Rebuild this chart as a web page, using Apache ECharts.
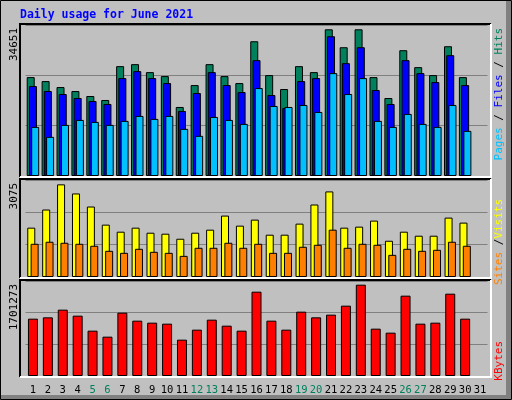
<!DOCTYPE html>
<html><head><meta charset="utf-8">
<script src="https://cdn.jsdelivr.net/npm/echarts@6/dist/echarts.min.js"></script>
<style>html,body{margin:0;padding:0;background:#c0c0c0}#c{width:512px;height:400px}</style>
</head><body><div id="c"></div>
<script>
const days = ['1','2','3','4','5','6','7','8','9','10','11','12','13','14','15','16','17','18','19','20','21','22','23','24','25','26','27','28','29','30','31'];
const weekends = ['5','6','12','13','19','20','26','27'];
const hits = [22696,21782,20411,19497,18355,17441,25209,25666,23838,22924,15841,20868,25666,22924,21325,30921,23153,19954,25209,23838,33663,29550,33663,22696,17898,28865,24980,23153,29779,22696,null];
const files = [20639,19497,18812,17898,17212,16527,22467,24067,22467,21325,14927,19040,23838,20868,19268,26580,18583,15613,21782,22467,32063,25894,29550,19725,16527,26580,23610,21553,27722,20868,null];
const pages = [11272,8987,11729,12871,12414,11729,12643,13785,13100,13785,10815,9215,13556,12871,11957,20182,16070,15841,16298,14699,23610,18812,22467,12643,11272,14242,11957,11272,16298,10358,null];
const visits = [1564,2139,2937,2649,2234,1660,1436,1564,1404,1373,1213,1404,1500,1947,1628,1819,1341,1341,1692,2298,2713,1564,1596,1788,1149,1436,1309,1309,1883,1724,null];
const sites = [1053,1117,1085,1053,990,830,766,894,798,766,670,926,926,1085,926,1053,766,766,958,1021,1500,926,1053,1021,702,894,830,862,1117,990,null];
const kbytes = [1026668,1050544,1187831,1080389,811784,704342,1134110,990854,955040,937133,650621,829691,1008761,901319,811784,1510157,990854,829691,1152017,1050544,1098296,1259459,1635506,847598,775970,1438529,937133,955040,1474343,1026668,null];
const maxLabels = ['34651','3075','1701273'];
const maxVals = [34651,3075,1701273];
const title = 'Daily usage for June 2021';

const mono = 'DejaVu Sans Mono';
const panels = [{top:25,height:151},{top:180,height:97},{top:281,height:95}];
const frames = [[20,24,491,177],[20,179,491,278],[20,280,491,377]];

const grids = panels.map(p=>({left:25.5,right:24.5,top:p.top,height:p.height,show:false}));
const xAxes = panels.map((p,i)=>({type:'category',gridIndex:i,data:days,
  axisLine:{show:false},axisTick:{show:false},
  axisLabel:{show:i===2,interval:0,margin:9,fontFamily:mono,fontSize:10.5,
    color:(v)=>weekends.includes(v)?'#00805c':'#000'}}));
const yAxes = maxVals.map((m,i)=>({type:'value',gridIndex:i,min:0,max:m,interval:m/3,
  axisLabel:{show:false},axisLine:{show:false},axisTick:{show:false},
  splitLine:{show:true,lineStyle:{color:'#808080',width:1}}}));

const bs = {borderColor:'#000',borderWidth:1};
function bar(name,data,ai,color,w,gap){return {name,type:'bar',xAxisIndex:ai,yAxisIndex:ai,data,barWidth:w,barGap:gap,
  itemStyle:Object.assign({color},bs),animation:false,silent:true};}

const graphics = [
  {type:'rect',shape:{x:0.5,y:0.5,width:511,height:399},style:{fill:'none',stroke:'#000',lineWidth:1},z:100},
  {type:'rect',shape:{x:506,y:1,width:5,height:398},style:{fill:'#808080'},z:99},
  {type:'rect',shape:{x:1,y:395,width:510,height:4},style:{fill:'#808080'},z:99},
  {type:'text',x:20,y:15,style:{text:title,font:'bold 11.5px "DejaVu Sans Mono"',fill:'#0000ff',textVerticalAlign:'middle'}}
];
frames.forEach(f=>{
  graphics.push({type:'polyline',shape:{points:[[f[0],f[3]],[f[0],f[1]],[f[2],f[1]]]},style:{stroke:'#000',lineWidth:2,fill:'none'},z:50});
  graphics.push({type:'polyline',shape:{points:[[f[0],f[3]],[f[2],f[3]],[f[2],f[1]]]},style:{stroke:'#fff',lineWidth:2,fill:'none'},z:50});
});
const yTop = [28,183,284];
maxLabels.forEach((t,i)=>graphics.push({type:'text',x:14,y:yTop[i],rotation:Math.PI/2,
  style:{text:t,font:'11px "DejaVu Sans Mono"',fill:'#000',textAlign:'right',textVerticalAlign:'middle'}}));
function rlabel(y,rich,text){graphics.push({type:'text',x:499,y:y,rotation:Math.PI/2,
  style:{text,rich,font:'11px "DejaVu Sans Mono"',textAlign:'right',textVerticalAlign:'middle'}});}
const rs = c=>({fill:c,font:'11px "DejaVu Sans Mono"'});
rlabel(28,{p:rs('#00c0ff'),f:rs('#0000ff'),h:rs('#00805c'),k:rs('#000')},'{p|Pages} {k|/} {f|Files} {k|/} {h|Hits}');
rlabel(199,{s:rs('#ff8000'),v:rs('#ffff00'),k:rs('#000')},'{s|Sites} {k|/}{v|Visits}');
rlabel(341,{r:rs('#ff0000')},'{r|KBytes}');

const chart = echarts.init(document.getElementById('c'));
chart.setOption({
  animation:false,backgroundColor:'#c0c0c0',
  grid:grids,xAxis:xAxes,yAxis:yAxes,
  series:[
    bar('Hits',hits,0,'#00805c',8,'-72%'),
    bar('Files',files,0,'#0000ff',8,'-72%'),
    bar('Pages',pages,0,'#00c0ff',8,'-72%'),
    bar('Visits',visits,1,'#ffff00',8,'-58%'),
    bar('Sites',sites,1,'#ff8000',8,'-58%'),
    bar('KBytes',kbytes,2,'#ff0000',10,'0%')
  ],
  graphic:graphics
});
</script></body></html>
